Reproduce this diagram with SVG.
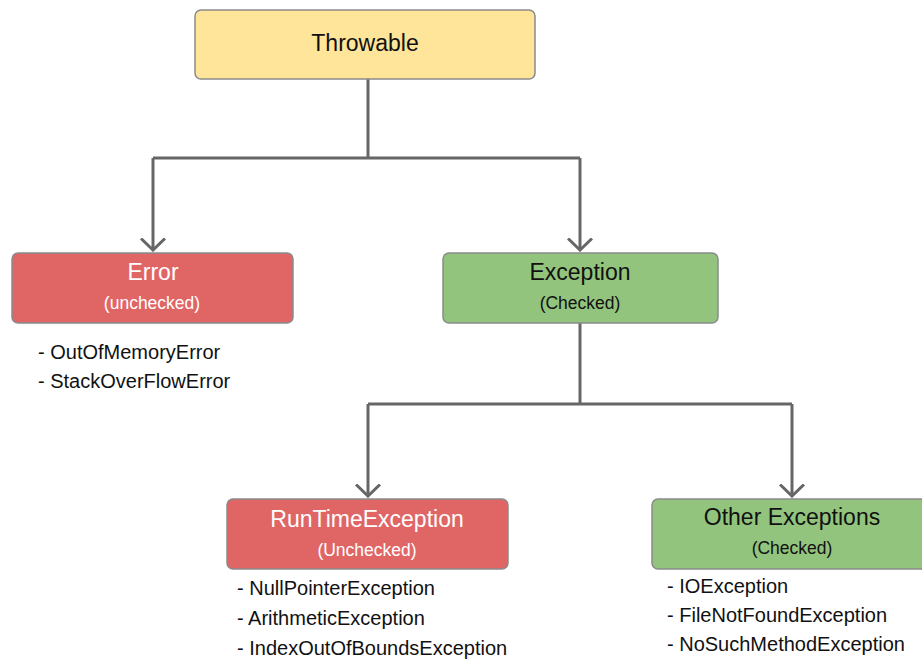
<svg xmlns="http://www.w3.org/2000/svg" width="922" height="659" viewBox="0 0 922 659">
<style>
.box{stroke:#8a8a8a;stroke-width:1.5}
.y{fill:#FFE599}.r{fill:#E06666}.g{fill:#93C47D}
.t{font-family:"Liberation Sans",Arial,sans-serif;text-anchor:middle}
.big{font-size:23px}.small{font-size:17.5px}
.w{fill:#ffffff}.k{fill:#111111}
.li{font-family:"Liberation Sans",Arial,sans-serif;font-size:20px;fill:#111111}
.c{fill:none;stroke:#666666;stroke-width:3}
</style>
<defs>
<marker id="ah" viewBox="0 0 14 26" refX="12.5" refY="13" markerWidth="14" markerHeight="26" markerUnits="userSpaceOnUse" orient="auto">
<path d="M1,1 L12.5,13 L1,25" fill="none" stroke="#666666" stroke-width="3"/>
</marker>
</defs>
<rect width="922" height="659" fill="#ffffff"/>
<g id="connectors">
<path class="c" d="M368,79 V158"/>
<path class="c" d="M153,158 H580"/>
<path class="c" d="M153,158 V250" marker-end="url(#ah)"/>
<path class="c" d="M580,158 V250" marker-end="url(#ah)"/>
<path class="c" d="M580,323 V404"/>
<path class="c" d="M368,404 H792"/>
<path class="c" d="M368,404 V496" marker-end="url(#ah)"/>
<path class="c" d="M792,404 V496" marker-end="url(#ah)"/>
</g>
<g id="throwable">
<rect class="box y" x="195" y="10" width="340" height="69" rx="6"/>
<text class="t big k" x="365" y="51">Throwable</text>
</g>
<g id="error">
<rect class="box r" x="12" y="253" width="281" height="70" rx="6"/>
<text class="t big w" x="153" y="280">Error</text>
<text class="t small w" x="152" y="309">(unchecked)</text>
<text class="li" x="38" y="359">- OutOfMemoryError</text>
<text class="li" x="38" y="388">- StackOverFlowError</text>
</g>
<g id="exception">
<rect class="box g" x="443" y="253" width="275" height="70" rx="6"/>
<text class="t big k" x="580" y="280">Exception</text>
<text class="t small k" x="580" y="309">(Checked)</text>
</g>
<g id="runtime">
<rect class="box r" x="227" y="499" width="281" height="70" rx="6"/>
<text class="t big w" x="367" y="527">RunTimeException</text>
<text class="t small w" x="367" y="556">(Unchecked)</text>
<text class="li" x="237" y="595">- NullPointerException</text>
<text class="li" x="237" y="625">- ArithmeticException</text>
<text class="li" x="237" y="655">- IndexOutOfBoundsException</text>
</g>
<g id="other">
<rect class="box g" x="652" y="499" width="280" height="70" rx="6"/>
<text class="t big k" x="792" y="525">Other Exceptions</text>
<text class="t small k" x="792" y="554">(Checked)</text>
<text class="li" x="667" y="593">- IOException</text>
<text class="li" x="667" y="622">- FileNotFoundException</text>
<text class="li" x="667" y="651">- NoSuchMethodException</text>
</g>
</svg>
